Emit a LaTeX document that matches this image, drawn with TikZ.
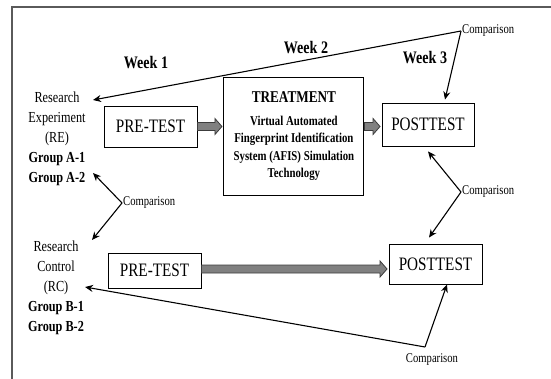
\documentclass[tikz,border=0pt]{standalone}
\usepackage{fontspec}
\setmainfont{Liberation Serif}[FakeStretch=0.8]
\usepackage{tikz}
\usetikzlibrary{arrows.meta,positioning,calc}
\definecolor{framegray}{HTML}{5A5A5A}
\definecolor{blockfill}{HTML}{808080}
\definecolor{blockline}{HTML}{3C3C3C}

\begin{document}
\begin{tikzpicture}[
  x=1pt, y=-1pt,
  lbl/.style={align=center, inner sep=1pt, font=\fontsize{15.3}{20}\selectfont},
  week/.style={inner sep=1pt, font=\bfseries\fontsize{17.6}{20}\selectfont},
  testbox/.style={draw, line width=0.9pt, minimum width=93pt, minimum height=41pt, inner sep=2pt, font=\fontsize{19}{22}\selectfont},
  treatbox/.style={draw, line width=0.9pt, minimum width=140pt, minimum height=118pt, align=center, inner sep=2pt, font=\bfseries\fontsize{13.5}{17.3}\selectfont},
  cmp/.style={inner sep=1pt, font=\fontsize{13.3}{15}\selectfont},
  arr/.style={-{Stealth[length=8pt,width=7pt]}, line width=1.1pt},
  blockarr/.style={draw=blockline, fill=blockfill, line width=0.8pt, to path={
    ($(\tikztostart)+(0,-4)$) -- ($(\tikztotarget)+(-8.5,-4)$) -- ($(\tikztotarget)+(-8.5,-8)$)
    -- ($(\tikztotarget)+(-1.5,0)$) -- ($(\tikztotarget)+(-8.5,8)$) -- ($(\tikztotarget)+(-8.5,4)$)
    -- ($(\tikztostart)+(0,4)$) -- cycle}}
]
  \useasboundingbox (0,0) rectangle (551,379);
  \draw[framegray, line width=1.6pt] (12,379) -- (12,7) -- (551,7);

  \node[week] (week1) at (146,63) {Week 1};
  \node[week] (week2) at (306,48) {Week 2};
  \node[week] (week3) at (425,58) {Week 3};

  \node[lbl] (re) at (57,139) {Research\\Experiment\\(RE)\\\textbf{Group A-1}\\\textbf{Group A-2}};
  \node[lbl] (rc) at (56,288) {Research\\Control\\(RC)\\\textbf{Group B-1}\\\textbf{Group B-2}};

  \node[testbox] (pre1) at (150.5,126.5) {PRE-TEST};
  \node[treatbox, right=26pt of pre1, yshift=-9.5pt] (treat) {{\fontsize{16.5}{18}\selectfont TREATMENT}\\[6pt]Virtual Automated\\Fingerprint Identification\\System (AFIS) Simulation\\Technology};
  \node[testbox, minimum width=92pt, minimum height=43pt] (post1) at (428,124.5) {POSTTEST};
  \node[testbox, minimum height=35pt] (pre2) at (154.5,270.5) {PRE-TEST};
  \node[testbox, minimum height=40pt] (post2) at (435.5,264) {POSTTEST};

  \draw[blockarr] (pre1.east) to (pre1.east -| treat.west);
  \draw[blockarr] (treat.east |- pre1.east) to (pre1.east -| post1.west);
  \draw[blockarr] ($(pre2.east)+(0,-1.5)$) to ($(pre2.east -| post2.west)+(0,-1.5)$);

  \node[cmp, anchor=west] (cmpTop) at (461,31) {Comparison};
  \node[cmp, anchor=west] (cmpMid) at (122,203) {Comparison};
  \node[cmp, anchor=west] (cmpRight) at (461,192) {Comparison};
  \node[cmp] (cmpBot) at (432,360) {Comparison};
  \coordinate (botApex) at (425,347);
  \coordinate (reIn) at (93,100);
  \coordinate (reLow) at (93,173);
  \coordinate (rcTop) at (92,240);
  \coordinate (rcIn) at (85,287);

  \draw[arr] (cmpTop.west) -- (reIn);
  \draw[arr] (cmpTop.west) -- ($(post1.north)+(17,-3)$);
  \draw[arr] (cmpMid.west) -- (reLow);
  \draw[arr] (cmpMid.west) -- (rcTop);
  \draw[arr] (cmpRight.west) -- ($(post1.south)+(0,5)$);
  \draw[arr] (cmpRight.west) -- ($(post2.north)+(-6.5,-6)$);
  \draw[arr] (botApex) -- (rcIn);
  \draw[arr] (botApex) -- ($(post2.south)+(11.5,0)$);
\end{tikzpicture}
\end{document}
